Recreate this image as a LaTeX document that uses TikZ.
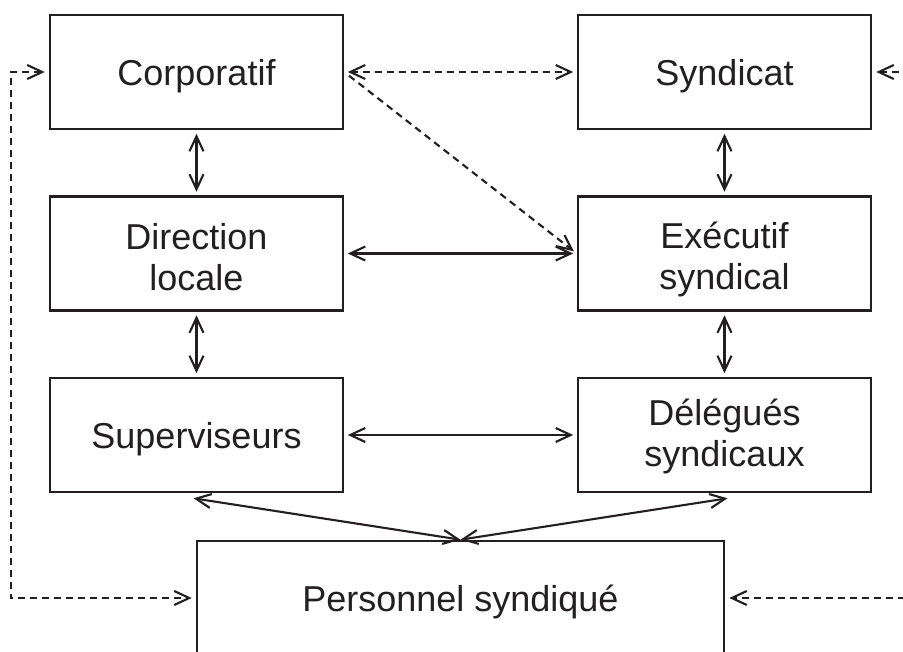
\documentclass[tikz,border=0pt]{standalone}
\usepackage{fontspec}
\setmainfont{Liberation Sans}
\usetikzlibrary{arrows.meta,calc}
\definecolor{ink}{RGB}{35,31,32}
\begin{document}
\begin{tikzpicture}[x=1pt,y=-1pt,
  box/.style={draw=ink, line width=2.6pt, minimum width=293pt,
    minimum height=114pt, inner sep=0pt},
  txt/.style={text=ink, inner sep=0pt, align=center,
    font=\fontsize{36}{41}\selectfont},
  tip/.tip={Straight Barb[length=15pt,width=14pt]},
  link/.style={draw=ink, line width=2.1pt, tip-tip, shorten <=3.5pt, shorten >=3.5pt},
  dlink/.style={link, line width=2.1pt, dash pattern=on 7pt off 5pt}]
\clip (0,0) rectangle (903,652);

% management side
\node[box] (corp) at (196.5,72)    {};
\node[box] (dir)  at (196.5,253.5) {};
\node[box] (sup)  at (196.5,435)   {};
% union side
\node[box] (synd) at (724.5,72)    {};
\node[box] (exe)  at (724.5,253.5) {};
\node[box] (del)  at (724.5,435)   {};
% staff
\node[box, minimum width=527pt] (pers) at (460.5,598) {};

% box captions
\node[txt] (corpT) at ($(corp)+(0,4)$) {Corporatif};
\node[txt] (dirT)  at ($(dir)+(0,4)$)  {Direction\\locale};
\node[txt] (supT)  at ($(sup)+(0,4)$)  {Superviseurs};
\node[txt] (syndT) at ($(synd)+(0,4)$) {Syndicat};
\node[txt] (exeT)  at ($(exe)+(0,6)$)  {Exécutif\\syndical};
\node[txt] (delT)  at ($(del)+(0,1)$)  {Délégués\\syndicaux};
\node[txt] (persT) at ($(pers)+(0,4)$) {Personnel syndiqué};

% vertical hierarchy
\draw[link] (corp) -- (dir);
\draw[link] (dir) -- (sup);
\draw[link] (synd) -- (exe);
\draw[link] (exe) -- (del);

% horizontal relations
\draw[dlink] (corp) -- (synd);
\draw[link] (dir) -- (exe);
\draw[link] (sup) -- (del);
\draw[dlink, -tip, shorten <=6pt] (corp.east) -- (exe.west);

% towards the staff
\coordinate (supfoot) at ($(sup.south)+(-3,5)$);
\coordinate (delfoot) at ($(del.south)+(3,5)$);
\draw[link, shorten <=0pt, shorten >=0pt] (supfoot) -- (pers.north);
\draw[link, shorten <=0pt, shorten >=0pt] (delfoot) -- (pers.north);

% outer dashed loops
\draw[dlink, shorten <=4pt, shorten >=4pt] (corp.west) -- ++(-38,0) |- (pers.west);
\draw[dlink, shorten <=4pt, shorten >=4pt] (synd.east) -- ++(45,0) |- (pers.east);
\end{tikzpicture}
\end{document}
